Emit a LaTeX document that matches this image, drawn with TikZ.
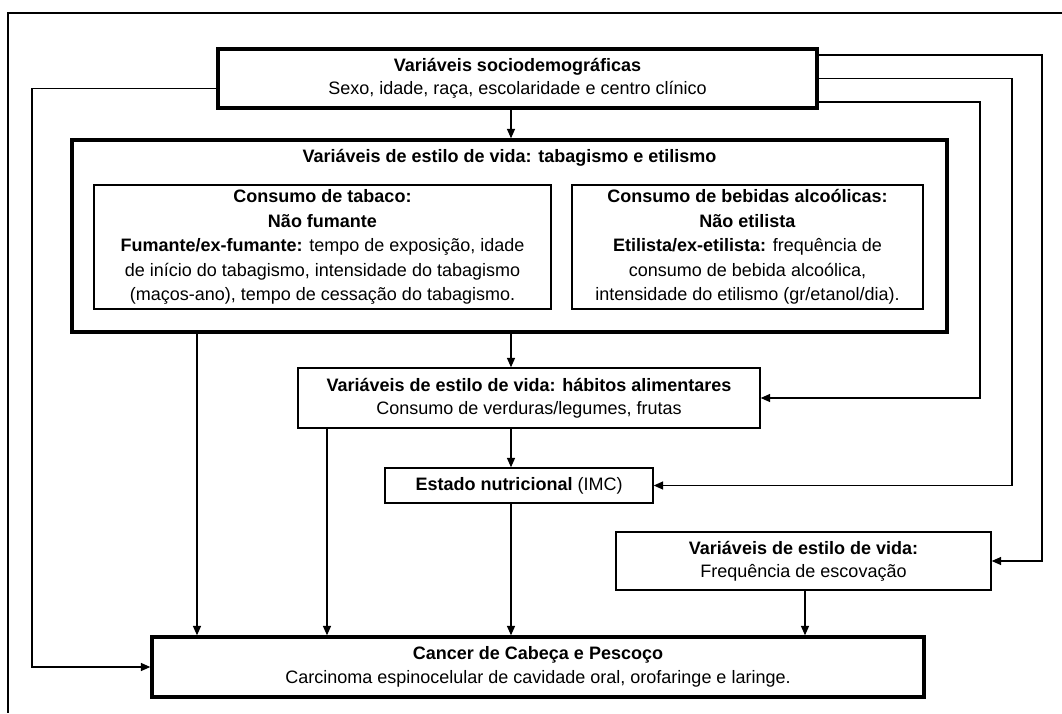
\documentclass[tikz,border=0pt]{standalone}
\usepackage{fontspec}
\setmainfont{Liberation Sans}
\usetikzlibrary{arrows.meta,calc}
\begin{document}
\begin{tikzpicture}[x=0.75pt,y=-0.75pt,
  every node/.style={font=\fontsize{13.5}{17.5}\selectfont, align=center, inner sep=0pt},
  innertext/.style={font=\fontsize{13.5}{18.4}\selectfont},
  thickbox/.style={draw=black, line width=2.6pt},
  thinbox/.style={draw=black, line width=1.1pt},
  conn/.style={draw=black, line width=0.9pt},
  arr/.style={conn, -{Triangle[length=7pt,width=6pt]}}]
\useasboundingbox (0,0) rectangle (1062,713);
\fill[white] (0,0) rectangle (1062,713);
% outer frame (cut by the page on the right and bottom)
\draw[line width=1.3pt] (1062,13) -- (8,13) -- (8,713);

% column coordinates
\coordinate (xL) at (32,0);
\coordinate (xl) at (197,0);
\coordinate (xh) at (327,0);
\coordinate (xm) at (511,0);
\coordinate (xe) at (805,0);
\coordinate (xa) at (980,0);
\coordinate (xb) at (1012,0);
\coordinate (xc) at (1042,0);

\node[thickbox, minimum width=449.25pt, minimum height=44.25pt] (top) at (517.5,78.5)
  {\textbf{Variáveis sociodemográficas}\\Sexo, idade, raça, escolaridade e centro clínico};

\node[thickbox, minimum width=656.25pt, minimum height=144pt] (big) at (509.5,236) {};
\node (bigt) at (509.5,158) {\textbf{Variáveis de estilo de vida: tabagismo e etilismo}};

\node[thinbox, innertext, minimum width=342.75pt, minimum height=93pt] (tab) at (322.5,247)
  {\textbf{Consumo de tabaco:}\\\textbf{Não fumante}\\\textbf{Fumante/ex-fumante:} tempo de exposição, idade\\de início do tabagismo, intensidade do tabagismo\\(maços-ano), tempo de cessação do tabagismo.};

\node[thinbox, innertext, minimum width=263.25pt, minimum height=93pt] (alc) at (747.5,247)
  {\textbf{Consumo de bebidas alcoólicas:}\\\textbf{Não etilista}\\\textbf{Etilista/ex-etilista:} frequência de\\consumo de bebida alcoólica,\\intensidade do etilismo (gr/etanol/dia).};

\node[thinbox, minimum width=346.5pt, minimum height=45pt] (hab) at (529,398)
  {\textbf{Variáveis de estilo de vida: hábitos alimentares}\\Consumo de verduras/legumes, frutas};

\node[thinbox, minimum width=201pt, minimum height=26.25pt] (est) at (519,485.5)
  {\textbf{Estado nutricional} (IMC)};

\node[thinbox, minimum width=281.25pt, minimum height=43.5pt] (esc) at (803.5,561)
  {\textbf{Variáveis de estilo de vida:}\\Frequência de escovação};

\node[thickbox, minimum width=579pt, minimum height=45pt] (can) at (538,667)
  {\textbf{Cancer de Cabeça e Pescoço}\\Carcinoma espinocelular de cavidade oral, orofaringe e laringe.};

% vertical connectors
\draw[arr] (top.south -| xm) -- (big.north -| xm);
\draw[arr] (big.south -| xm) -- (hab.north -| xm);
\draw[arr] (hab.south -| xm) -- (est.north -| xm);
\draw[arr] (est.south -| xm) -- (can.north -| xm);
\draw[arr] (big.south -| xl) -- (can.north -| xl);
\draw[arr] (hab.south -| xh) -- (can.north -| xh);
\draw[arr] (esc.south -| xe) -- (can.north -| xe);

% left route
\draw[arr] ([yshift=-7.5pt]top.west) -| (xL |- can.west) -- (can.west);

% right routes
\draw[arr] ([yshift=17.6pt]top.east) -| (xc |- esc.east) -- (esc.east);
\draw[arr] (top.east) -| (xb |- est.east) -- (est.east);
\draw[arr] ([yshift=-17.6pt]top.east) -| (xa |- hab.east) -- (hab.east);
\end{tikzpicture}
\end{document}
